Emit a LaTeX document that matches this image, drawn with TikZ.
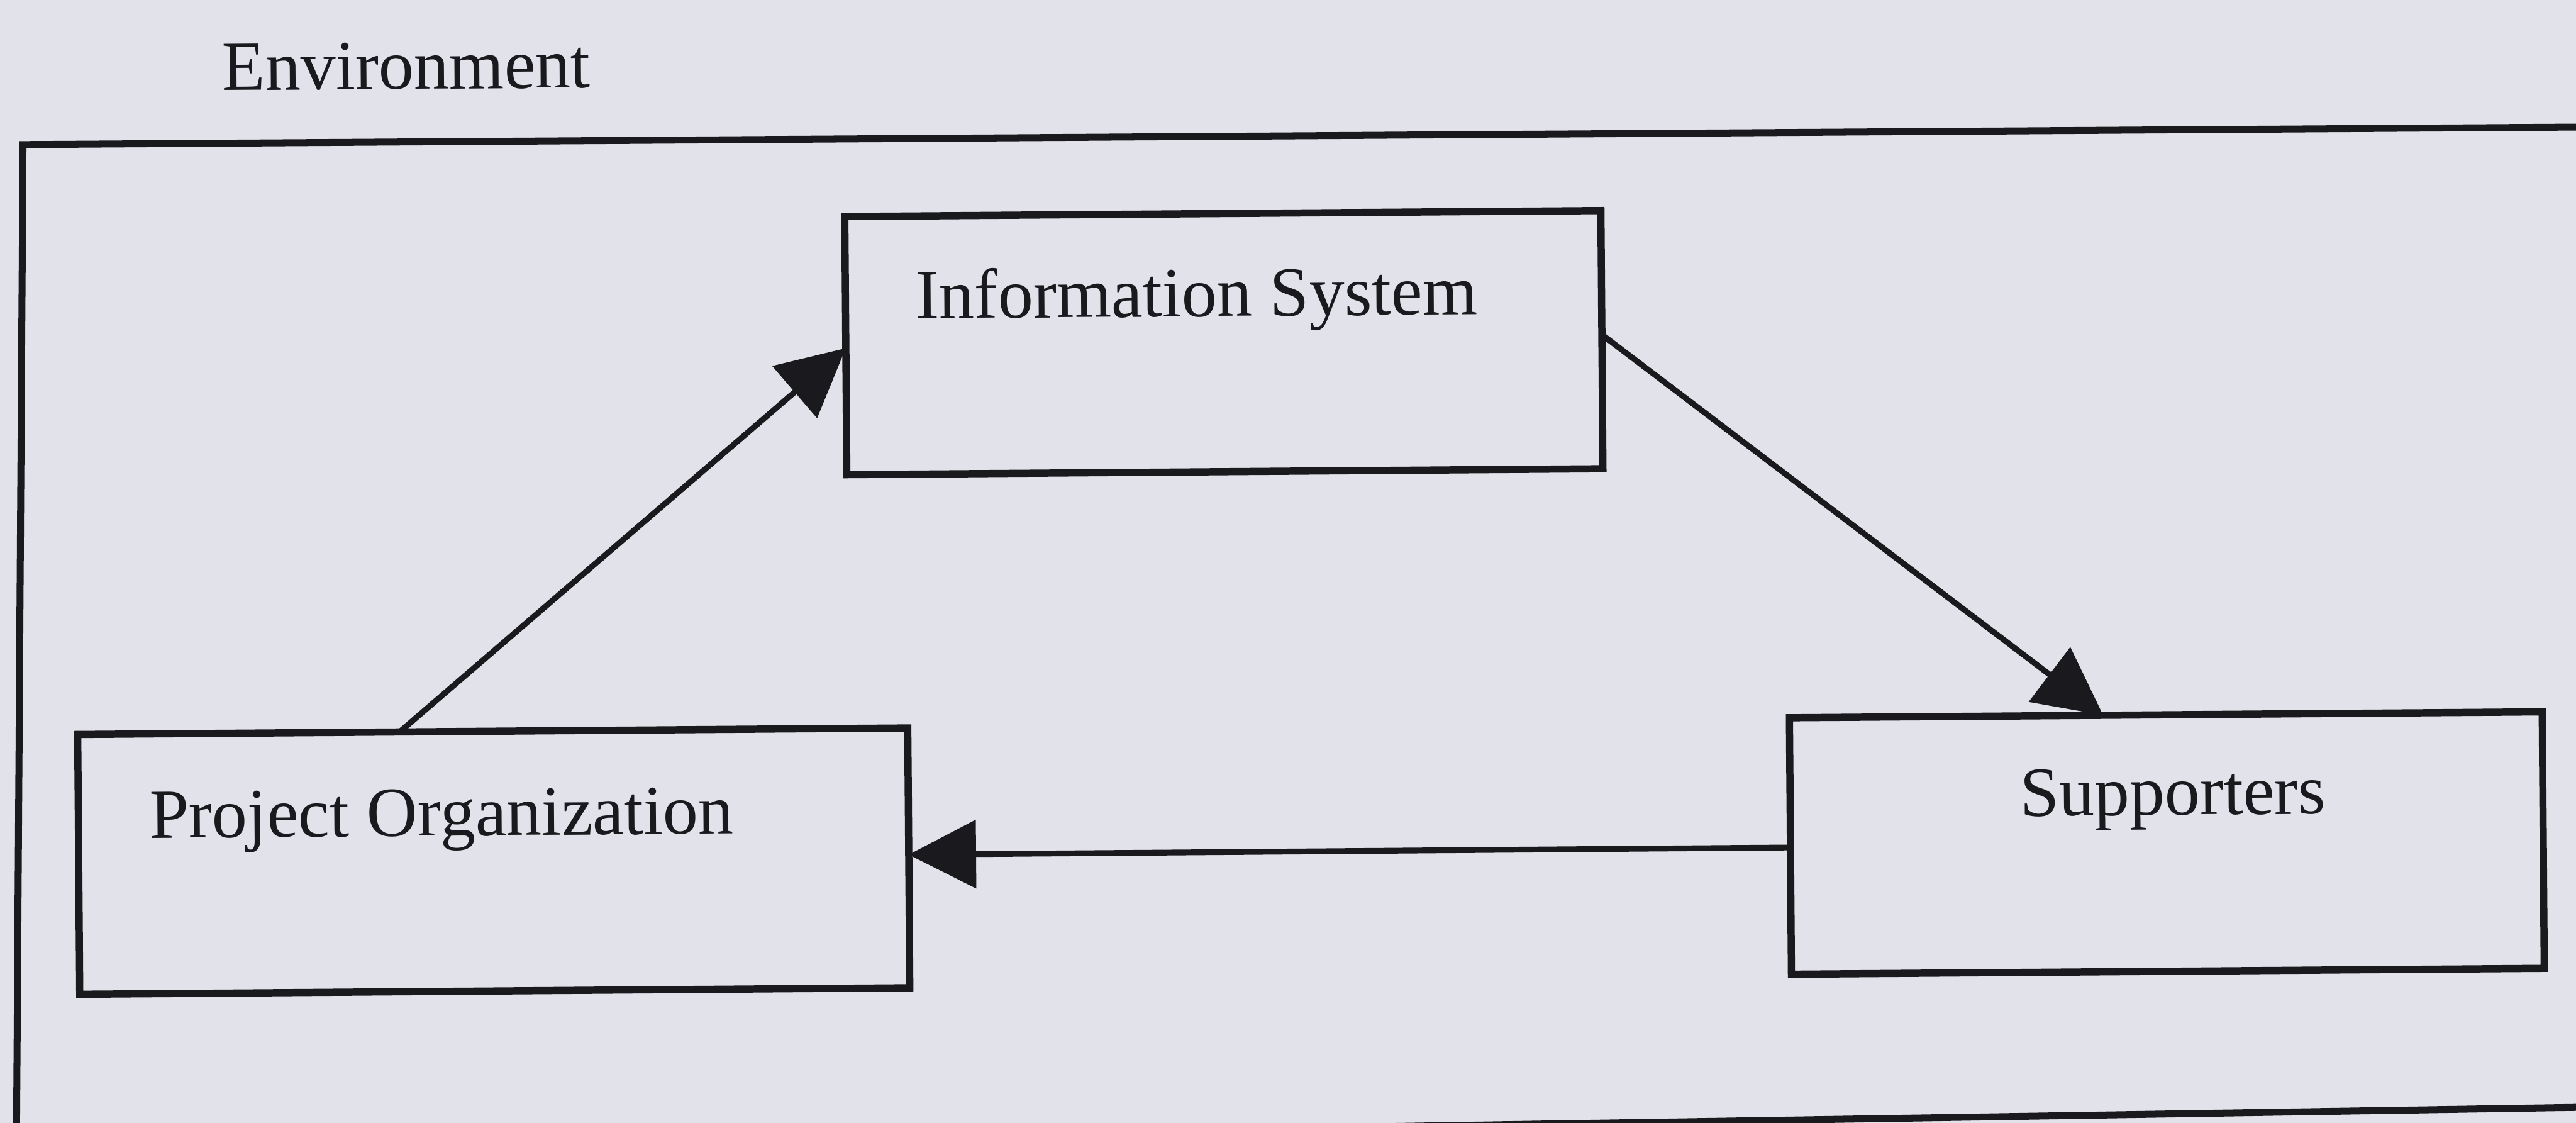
\documentclass[tikz,border=0pt]{standalone}
\usepackage{fontspec}
\setmainfont{Liberation Serif}
\usetikzlibrary{arrows.meta,calc}
\definecolor{paper}{RGB}{226,226,234}
\definecolor{ink}{RGB}{26,26,30}
\begin{document}
\begin{tikzpicture}[x=0.01cm, y=-0.01cm,
  box/.style={draw=ink, line width=1.25pt, rectangle, inner sep=0pt, outer sep=0pt},
  frame/.style={draw=ink, line width=1.2pt, line join=miter},
  lbl/.style={text=ink, font=\fontsize{12.2}{14}\selectfont, inner sep=0pt, anchor=base west},
  flow/.style={draw=ink, line width=1.0pt, -{Triangle[length=4.1mm,width=4.1mm]}}]
\useasboundingbox (0,0) rectangle (1568,683);
\fill[paper] (-10,-10) rectangle (1578,693);
\clip (0,0) rectangle (1568,683);

% surrounding environment frame (runs past the right and bottom edges)
\coordinate (envNW) at (14,88);
\coordinate (envNE) at (1620,77);
\coordinate (envSE) at (1620,673);
\coordinate (envSW) at (10,699);
\draw[frame] (envNE) -- (envNW) -- (envSW) -- (envSE);

\begin{scope}[rotate around={0.45:(784,341)}, transform shape]
  \node[lbl] (envlbl) at (137,50) {Environment};

  % the three parties
  \node[box, minimum width=4.60cm, minimum height=1.57cm] (is) at (746,208.2) {};
  \node[box, minimum width=5.05cm, minimum height=1.58cm] (po) at (299.1,520.2) {};
  \node[box, minimum width=4.58cm, minimum height=1.56cm] (sup) at (1317.6,517.2) {};

  \node[lbl] (islbl) at (558,192.2) {Information System};
  \node[lbl] (polbl) at (89.2,504.6) {Project Organization};
  \node[lbl] (suplbl) at (1227.8,500.1) {Supporters};

  % flows between the parties
  \draw[flow] ($(po.north west)!0.388!(po.north east)$) -- ($(is.north west)!0.51!(is.south west)$);
  \draw[flow] ($(is.north east)!0.48!(is.south east)$) -- ($(sup.north west)!0.417!(sup.north east)$);
  \draw[flow] ($(sup.north west)!0.506!(sup.south west)$) -- ($(po.north east)!0.488!(po.south east)$);
\end{scope}
\end{tikzpicture}
\end{document}
